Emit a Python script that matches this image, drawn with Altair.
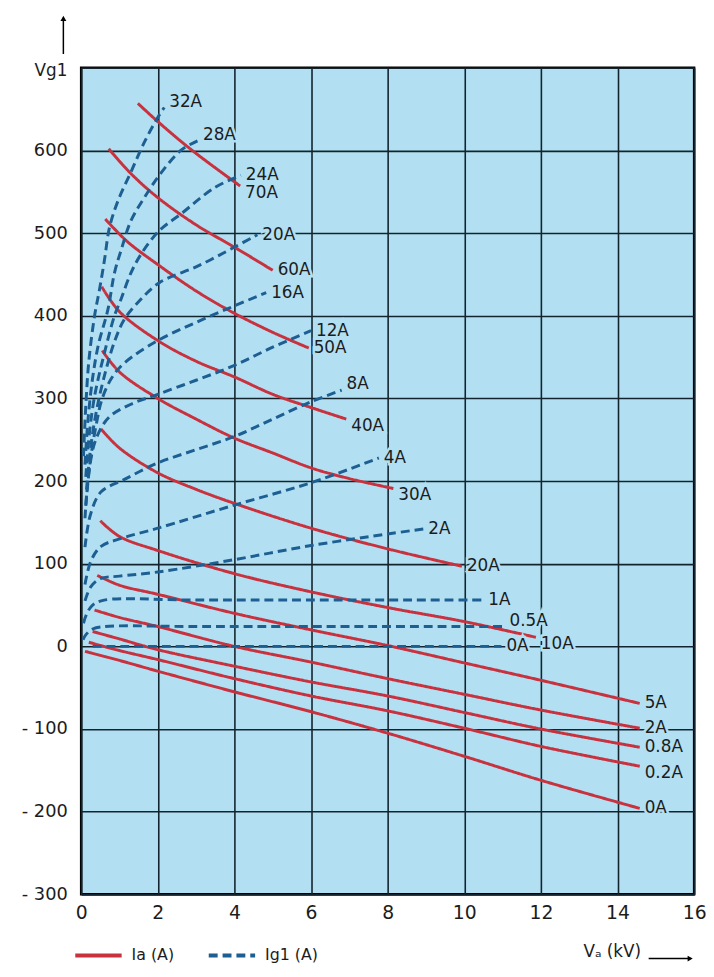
import altair as alt
import pandas as pd

# ---------------- data ----------------
IA_NAMES = ["70A", "60A", "50A", "40A", "30A", "20A", "10A", "5A", "2A", "0.8A", "0.2A", "0A"]
IA_X = [
    [1.48, 2.0, 2.9, 4.15],
    [0.72, 1.3, 2.0, 3.0, 4.0, 5.0],
    [0.63, 1.2, 2.0, 3.0, 4.0, 5.0, 5.94],
    [0.54, 1.0, 2.0, 3.0, 4.0, 5.0, 6.0, 6.92],
    [0.55, 1.0, 2.0, 3.0, 4.0, 5.0, 6.0, 7.0, 8.15],
    [0.52, 1.0, 2.0, 3.0, 4.0, 6.0, 8.0, 9.94],
    [0.5, 1.0, 2.0, 4.0, 6.0, 8.0, 10.0, 11.87],
    [0.42, 1.0, 2.0, 4.0, 6.0, 8.0, 10.0, 12.0, 14.58],
    [0.35, 1.0, 2.0, 4.0, 6.0, 8.0, 10.0, 12.0, 14.58],
    [0.3, 1.0, 2.0, 4.0, 6.0, 8.0, 10.0, 12.0, 14.58],
    [0.2, 1.0, 2.0, 4.0, 6.0, 8.0, 10.0, 12.0, 14.58],
    [0.1, 1.0, 2.0, 4.0, 6.0, 8.0, 10.0, 12.0, 14.58],
]
IA_Y = [
    [657, 635, 600, 557],
    [602, 572, 543, 510, 483, 455],
    [517, 490, 462, 430, 403, 380, 361],
    [435, 405, 370, 345, 326, 305, 289, 275],
    [358, 332, 300, 275, 252, 234, 216, 203, 191],
    [263, 240, 210, 190, 173, 143, 118, 97],
    [152, 133, 116, 88, 66, 47, 30, 11],
    [86, 74, 63, 40, 20, 1, -20, -41, -69],
    [44, 35, 24, 0, -19, -39, -58, -77, -99],
    [18, 9, -4, -24, -43, -60, -80, -100, -122],
    [5, -5, -16, -39, -60, -78, -99, -121, -145],
    [-6, -17, -30, -55, -79, -105, -133, -162, -196],
]
IA_PLACE = ["below", "mid", "mid", "below", "below", "mid", "below", "mid", "mid", "mid", "below", "mid"]

IG_NAMES = ["32A", "28A", "24A", "20A", "16A", "12A", "8A", "4A", "2A", "1A", "0.5A", "0A"]
IG_X = [
    [0.06, 0.12, 0.2, 0.35, 0.48, 0.61, 0.74, 0.96, 1.3, 1.65, 2.0, 2.17],
    [0.1, 0.18, 0.3, 0.45, 0.7, 0.87, 1.04, 1.3, 1.65, 2.04, 2.6, 3.05],
    [0.12, 0.22, 0.36, 0.58, 0.87, 1.04, 1.3, 1.57, 2.04, 2.6, 3.48, 4.17],
    [0.14, 0.26, 0.42, 0.65, 0.88, 1.13, 1.48, 2.04, 3.04, 4.0, 4.6],
    [0.12, 0.24, 0.4, 0.55, 0.8, 1.13, 2.0, 3.0, 4.0, 4.83],
    [0.1, 0.2, 0.38, 0.72, 1.3, 2.0, 3.0, 4.0, 5.0, 6.0],
    [0.1, 0.24, 0.52, 1.13, 2.0, 3.0, 4.0, 5.0, 6.0, 6.8],
    [0.1, 0.26, 0.52, 1.0, 2.0, 4.0, 6.0, 7.77],
    [0.1, 0.25, 0.5, 1.0, 2.0, 4.0, 6.0, 8.0, 8.93],
    [0.06, 0.15, 0.3, 0.6, 3.0, 6.0, 10.5],
    [0.05, 0.12, 0.3, 0.6, 3.0, 6.0, 11.05],
    [0.3, 10.97],
]
IG_Y = [
    [230, 290, 345, 400, 432, 468, 507, 539, 574, 610, 640, 652],
    [220, 275, 325, 365, 408, 452, 479, 515, 543, 570, 600, 612],
    [205, 260, 305, 350, 400, 420, 452, 475, 503, 523, 555, 570],
    [190, 245, 290, 335, 370, 396, 416, 440, 460, 483, 498],
    [170, 225, 270, 300, 325, 343, 370, 392, 412, 428],
    [155, 210, 250, 277, 293, 305, 322, 340, 362, 382],
    [120, 159, 187, 202, 222, 238, 254, 275, 296, 310],
    [75, 104, 121, 130, 143, 171, 198, 228],
    [55, 72, 82, 85, 90, 105, 122, 136, 142],
    [28, 40, 50, 56, 56, 56, 56],
    [8, 14, 21, 24, 24, 24, 24],
    [0, 0],
]
IG_PLACE = ["above", "above", "mid", "mid", "mid", "mid", "above", "mid", "mid", "mid", "above", "mid"]

X_TICKS = [0, 2, 4, 6, 8, 10, 12, 14, 16]
Y_TICKS = [-300, -200, -100, 0, 100, 200, 300, 400, 500, 600, 700]
KINDS = ["Ia (A)", "Ig1 (A)"]

# ---------------- styling ----------------
RED = "#c8323f"
BLUE = "#1d5f92"
BG = "#b2e0f2"
GRID = "#13242e"
FONT = "DejaVu Sans"
TXT = "#1c1c1c"

# ---------------- build tables ----------------
rows, labels = [], []
for kind, names, xs, ys, places in [
    (KINDS[0], IA_NAMES, IA_X, IA_Y, IA_PLACE),
    (KINDS[1], IG_NAMES, IG_X, IG_Y, IG_PLACE),
]:
    for name, xv, yv, pl in zip(names, xs, ys, places):
        cid = kind + name
        for i, (a, b) in enumerate(zip(xv, yv)):
            rows.append({"x": a, "y": b, "curve": cid, "kind": kind, "i": i})
        labels.append({"x": xv[-1], "y": yv[-1], "text": name, "place": pl})

df = pd.DataFrame(rows)
lab = pd.DataFrame(labels)

xscale = alt.Scale(domain=[0, 16], nice=False, zero=False)
yscale = alt.Scale(domain=[-300, 700], nice=False, zero=False)

xaxis = alt.Axis(values=X_TICKS, title=None, grid=True, ticks=False, domain=False,
                 labelFontSize=19, labelPadding=9, labelFont=FONT, labelColor=TXT, labelFlush=False,
                 gridColor=GRID, gridWidth=1.6, gridOpacity=1)
yaxis = alt.Axis(values=Y_TICKS, title=None, grid=True, ticks=False, domain=False,
                 labelFontSize=18, labelPadding=14, labelFont=FONT, labelColor=TXT, labelFlush=False,
                 gridColor=GRID, gridWidth=1.6, gridOpacity=1,
                 labelExpr="datum.value >= 700 ? '' : (datum.value < 0 ? '- ' + (-datum.value) : datum.label)")

legend = alt.Legend(orient="none", legendX=-8, legendY=872, direction="horizontal", title=None,
                    symbolType="stroke", symbolSize=2200, symbolStrokeWidth=4,
                    labelFontSize=16, labelFont=FONT, labelColor=TXT, columnPadding=26,
                    labelOffset=8)

lines = alt.Chart(df).mark_line(strokeWidth=3, interpolate="catmull-rom").encode(
    x=alt.X("x:Q", scale=xscale, axis=xaxis),
    y=alt.Y("y:Q", scale=yscale, axis=yaxis),
    color=alt.Color("kind:N", scale=alt.Scale(domain=KINDS, range=[RED, BLUE]), legend=legend),
    strokeDash=alt.StrokeDash("kind:N", scale=alt.Scale(domain=KINDS, range=[[1, 0], [9, 5]]), legend=legend),
    detail="curve:N",
    order="i:Q",
)

text_layers = []
for place, dy in [("mid", 0), ("below", 7), ("above", -6)]:
    sub = lab[lab["place"] == place]
    base = alt.Chart(sub).encode(x=alt.X("x:Q", scale=xscale), y=alt.Y("y:Q", scale=yscale), text="text:N")
    halo = base.mark_text(align="left", baseline="middle", dx=5, dy=dy, font=FONT, fontSize=17,
                          stroke=BG, strokeWidth=5, fill=BG)
    txt = base.mark_text(align="left", baseline="middle", dx=5, dy=dy, font=FONT, fontSize=17, color=TXT)
    text_layers += [halo, txt]

one = pd.DataFrame({"k": [0]})
vg_title = alt.Chart(one).mark_text(align="right", baseline="alphabetic", font=FONT, fontSize=17,
                                    color=TXT, text="Vg1").encode(x=alt.value(-14), y=alt.value(8))
vg_arrow = alt.Chart(one).mark_rule(color="black", strokeWidth=1.5).encode(
    x=alt.value(-18), y=alt.value(-50), y2=alt.value(-14))
vg_head = alt.Chart(one).mark_point(shape="triangle-up", filled=True, size=35, color="black", opacity=1).encode(
    x=alt.value(-18), y=alt.value(-50))
va_title = alt.Chart(one).mark_text(align="left", baseline="middle", font=FONT, fontSize=17,
                                    color=TXT, text="Vₐ (kV)").encode(x=alt.value(508), y=alt.value(894))
va_arrow = alt.Chart(one).mark_rule(color="black", strokeWidth=1.5).encode(
    x=alt.value(574), x2=alt.value(616), y=alt.value(901))
va_head = alt.Chart(one).mark_point(shape="triangle-right", filled=True, size=35, color="black", opacity=1).encode(
    x=alt.value(616), y=alt.value(901))

chart = alt.layer(lines, *text_layers, vg_title, vg_arrow, vg_head, va_title, va_arrow, va_head).properties(
    width=620, height=836,
    padding={"left": 74, "top": 55, "right": 12, "bottom": 70},
    autosize=alt.AutoSizeParams(type="none"),
).configure_view(fill=BG, stroke="black", strokeWidth=2.5)

chart.save("out.html", embed_options={"renderer": "svg", "actions": False})
